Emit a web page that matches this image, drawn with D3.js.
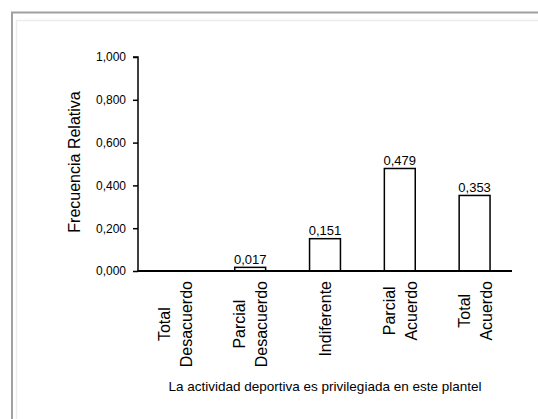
<!DOCTYPE html>
<html>
<head>
<meta charset="utf-8">
<script src="https://cdn.jsdelivr.net/npm/d3@7"></script>
<style>
  html, body { margin: 0; padding: 0; background: #fff; }
  svg { display: block; }
  text { font-family: "Liberation Sans", Arial, sans-serif; fill: #000; }
</style>
</head>
<body>
<svg id="chart" width="538" height="419"></svg>
<script>
// ---- data ----
const categories = [
  ["Total", "Desacuerdo"],
  ["Parcial", "Desacuerdo"],
  ["Indiferente"],
  ["Parcial", "Acuerdo"],
  ["Total", "Acuerdo"]
];
const values = [0, 0.017, 0.151, 0.479, 0.353];
const yTicks = [0, 0.2, 0.4, 0.6, 0.8, 1.0];
const yTitle = "Frecuencia Relativa";
const xTitle = "La actividad deportiva es privilegiada en este plantel";

// ---- setup ----
const svg = d3.select("#chart");

// frame
svg.append("rect").attr("x", 12).attr("y", 12.5).attr("width", 600).attr("height", 600)
  .attr("fill", "none").attr("stroke", "#a0a0a0").attr("stroke-width", 2);
svg.append("rect").attr("x", 16.5).attr("y", 20.5).attr("width", 600).attr("height", 600)
  .attr("fill", "none").attr("stroke", "#ececec").attr("stroke-width", 1.5);

const locale = d3.formatLocale({decimal: ",", thousands: ".", grouping: [3], currency: ["", ""]});
const fmt = locale.format(".3f");

const plot = {left: 138, right: 512, top: 57, bottom: 271};
const keys = categories.map(c => c.join(" "));

const x = d3.scaleBand().domain(keys).range([plot.left, plot.right])
  .paddingInner(0.587).paddingOuter(0.2935);
const y = d3.scaleLinear().domain([0, 1]).range([plot.bottom, plot.top]);

// bars
svg.append("g").selectAll("rect").data(values).join("rect")
  .attr("x", (d, i) => x(keys[i]))
  .attr("y", d => y(d))
  .attr("width", x.bandwidth())
  .attr("height", d => y(0) - y(d))
  .attr("fill", "#fff")
  .attr("stroke", d => d > 0 ? "#000" : "none")
  .attr("stroke-width", 1.5);

// value labels
svg.append("g").selectAll("text").data(values.map((v, i) => ({v, i})).filter(d => d.v > 0)).join("text")
  .attr("x", d => x(keys[d.i]) + x.bandwidth() / 2)
  .attr("y", d => y(d.v) - 3.5)
  .attr("text-anchor", "middle")
  .attr("font-size", 13)
  .text(d => fmt(d.v));

// y axis
const yAxis = d3.axisLeft(y).tickValues(yTicks).tickFormat(fmt).tickSize(5).tickPadding(7);
const gy = svg.append("g").attr("transform", `translate(${plot.left},0)`).call(yAxis);
gy.select(".domain").attr("stroke", "#000").attr("stroke-width", 1.5).attr("d", `M-5,${y(1)}H0V${y(0)}`);
gy.selectAll(".tick line").attr("stroke", "#000").attr("stroke-width", 1.5);
gy.selectAll(".tick text").attr("font-size", 12).attr("font-family", "Liberation Sans, Arial, sans-serif").attr("fill", "#000");

// x axis
const xAxis = d3.axisBottom(x).tickSize(0).tickFormat("");
const gx = svg.append("g").attr("transform", `translate(0,${plot.bottom})`).call(xAxis);
gx.select(".domain").attr("stroke", "#000").attr("stroke-width", 2).attr("d", `M${plot.left - 0.75},0H${plot.right}`);

// category labels (rotated, multi-line centered, block anchored at top)
const labTop = 281;
const lineH = 22;
const catG = svg.append("g");
categories.forEach((lines, i) => {
  const cx = x(keys[i]) + x.bandwidth() / 2;
  const g = catG.append("g").attr("transform", `translate(${cx},${labTop}) rotate(-90)`);
  const texts = lines.map((ln, j) => g.append("text")
    .attr("font-size", 16)
    .attr("text-anchor", "middle")
    .attr("y", 6 + (j - (lines.length - 1) / 2) * lineH)
    .text(ln));
  const M = d3.max(texts, t => t.node().getComputedTextLength());
  texts.forEach(t => t.attr("x", -M / 2));
});

// axis titles
svg.append("text")
  .attr("transform", `translate(80,${(plot.top + plot.bottom) / 2 - 2}) rotate(-90)`)
  .attr("text-anchor", "middle")
  .attr("font-size", 16)
  .text(yTitle);

svg.append("text")
  .attr("x", (plot.left + plot.right) / 2)
  .attr("y", 391)
  .attr("text-anchor", "middle")
  .attr("font-size", 13.5)
  .text(xTitle);
</script>
</body>
</html>
